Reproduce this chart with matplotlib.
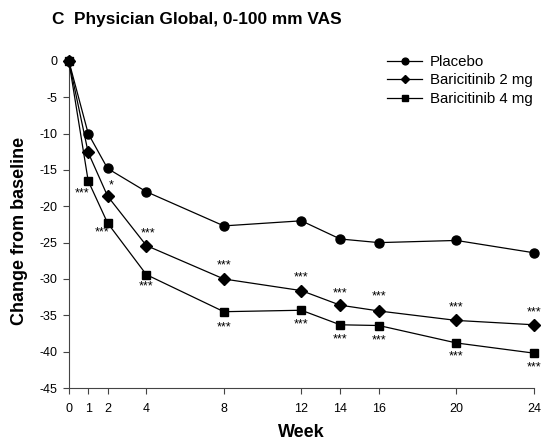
import matplotlib
matplotlib.use('Agg')
import matplotlib.pyplot as plt

plt.rcParams['font.family'] = ['Liberation Sans', 'DejaVu Sans']
plt.rcParams['axes.unicode_minus'] = False

# data
weeks = [0, 1, 2, 4, 8, 12, 14, 16, 20, 24]
placebo = [0, -10.0, -14.8, -18.0, -22.7, -22.0, -24.5, -25.0, -24.7, -26.4]
bari2 = [0, -12.6, -18.6, -25.4, -30.0, -31.6, -33.6, -34.4, -35.7, -36.3]
bari4 = [0, -16.5, -22.3, -29.4, -34.5, -34.3, -36.3, -36.4, -38.8, -40.2]

# significance marks (x, y, text)
sig_x = [0.67, 2.17, 1.7, 4.1, 4.0, 8.0, 8.0, 12, 12, 14, 14, 16, 16, 20, 20, 24, 24]
sig_y = [-18.3, -17.1, -23.6, -23.8, -31.0, -28.1, -36.6, -29.8, -36.2,
         -32.0, -38.3, -32.4, -38.5, -33.9, -40.6, -34.6, -42.2]
sig_txt = ['***', '*', '***', '***', '***', '***', '***', '***', '***',
           '***', '***', '***', '***', '***', '***', '***', '***']

fig = plt.figure(figsize=(5.46, 4.44), dpi=100)
ax = fig.add_axes([0.126, 0.126, 0.852, 0.737])

ax.plot(weeks, placebo, color='black', lw=0.9, marker='o', ms=6.5, clip_on=False, label='Placebo', zorder=3)
ax.plot(weeks, bari2, color='black', lw=0.9, marker='D', ms=5.8, clip_on=False, label='Baricitinib 2 mg', zorder=3)
ax.plot(weeks, bari4, color='black', lw=0.9, marker='s', ms=6.3, clip_on=False, label='Baricitinib 4 mg', zorder=3)

for x, y, t in zip(sig_x, sig_y, sig_txt):
    ax.text(x, y, t, ha='center', va='center', fontsize=9)

ax.set_xlim(0, 24)
ax.set_ylim(-45, 0)
ax.set_xticks(weeks)
ax.set_yticks(range(-45, 1, 5))
ax.tick_params(labelsize=9, length=4, width=0.8, direction='out', pad=4, color='#444444')
ax.tick_params(axis='x', pad=7)
ax.spines['top'].set_visible(False)
ax.spines['right'].set_visible(False)
ax.spines['left'].set_color('#444444')
ax.spines['bottom'].set_color('#444444')

ax.set_xlabel('Week', fontsize=13, fontweight='bold', va='center')
ax.xaxis.set_label_coords(0.5, -0.1346)
ax.set_ylabel('Change from baseline', fontsize=13, fontweight='bold', va='center')
ax.yaxis.set_label_coords(-0.106, 0.48)

fig.text(0.095, 0.955, 'C  Physician Global, 0-100 mm VAS', fontsize=12.4, fontweight='bold', va='center')

ax.legend(loc='upper right', bbox_to_anchor=(1.02, 1.05), frameon=False, fontsize=10.8,
          handlelength=2.3, labelspacing=0.3, handletextpad=0.55, markerscale=0.75,
          borderaxespad=0.3)

fig.savefig('out.png', dpi=100)
